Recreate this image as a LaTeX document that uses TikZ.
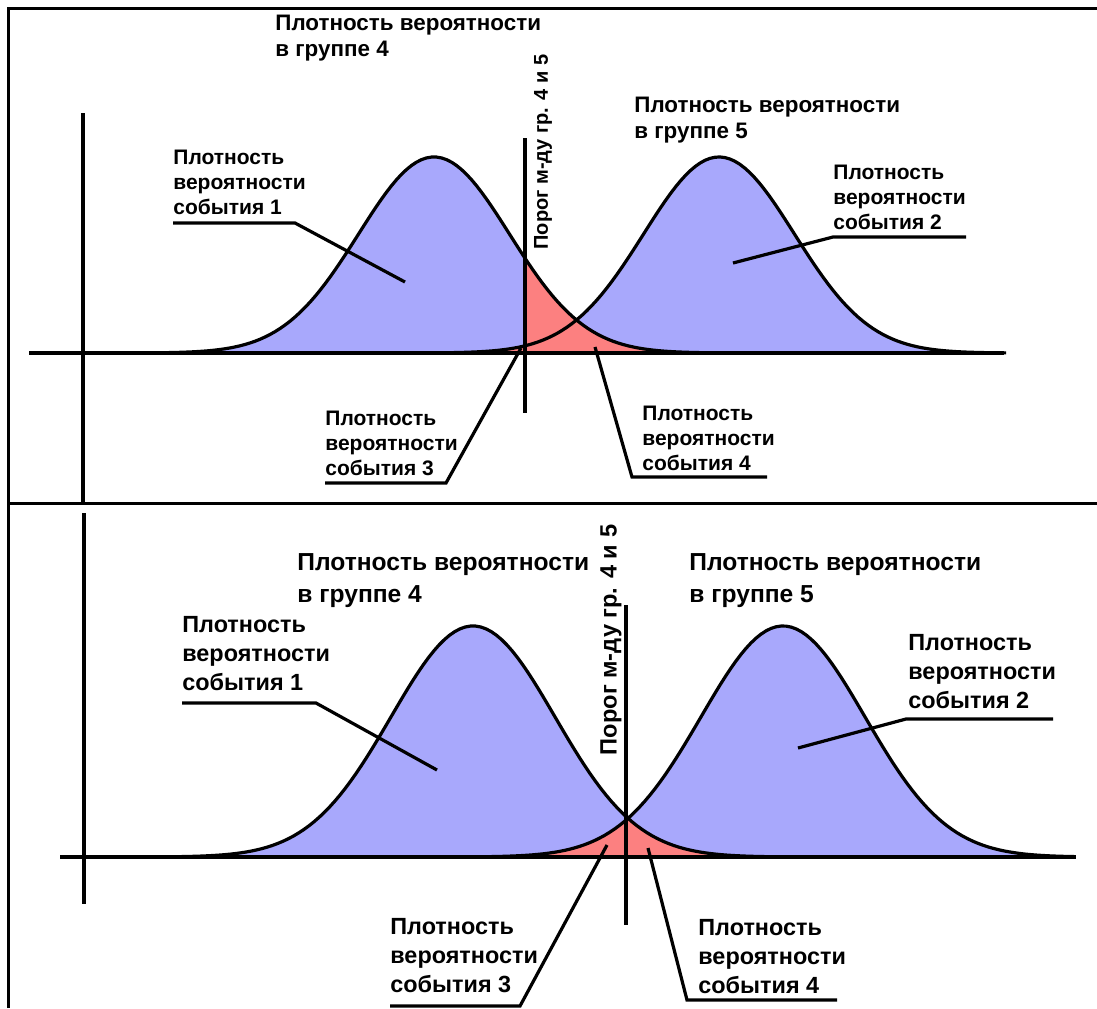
\documentclass[tikz,border=0pt]{standalone}
\usepackage{fontspec}
\setmainfont{Liberation Sans}
\definecolor{bluefill}{RGB}{168,168,252}
\definecolor{redfill}{RGB}{252,128,128}
\begin{document}
\begin{tikzpicture}[x=0.5pt,y=-0.5pt,
  ax/.style={line width=2pt},
  thl/.style={line width=2.2pt},
  cv/.style={line width=1.6pt},
  ld/.style={line width=1.6pt},
  fr/.style={line width=1.5pt},
  lbl/.style={anchor=west,inner sep=0pt,align=left},
  ttlA/.style={lbl,font=\bfseries\fontsize{11.2pt}{13.25pt}\selectfont},
  evA/.style={lbl,font=\bfseries\fontsize{10.5pt}{12.5pt}\selectfont},
  ttlB/.style={lbl,font=\bfseries\fontsize{12.3pt}{16pt}\selectfont},
  evB/.style={lbl,font=\bfseries\fontsize{11.7pt}{14.5pt}\selectfont},
  thrA/.style={inner sep=0pt,rotate=90,font=\bfseries\fontsize{10pt}{12pt}\selectfont},
  thrB/.style={inner sep=0pt,rotate=90,font=\bfseries\fontsize{11.8pt}{14pt}\selectfont}]
\useasboundingbox (0,0) rectangle (1097,1008);
% frame
\draw[fr] (8,1008) -- (8,8) -- (1097,8);
\draw[fr] (8,503) -- (1097,503);

% ================= TOP PANEL =================
\fill[bluefill] plot[domain=134:734,samples=120] (\x,{353-196*exp(-0.5*((\x-434)/75.5)^2)}) -- cycle;
\fill[bluefill] plot[domain=419:1006,samples=120] (\x,{353-196*exp(-0.5*((\x-719)/75.5)^2)}) -- cycle;
\fill[redfill] (525,353) -- plot[domain=525:734,samples=60] (\x,{353-196*exp(-0.5*((\x-434)/75.5)^2)}) -- cycle;
\fill[redfill] plot[domain=419:525,samples=40] (\x,{353-196*exp(-0.5*((\x-719)/75.5)^2)}) -- (525,353) -- cycle;
\draw[cv] plot[domain=134:734,samples=120] (\x,{353-196*exp(-0.5*((\x-434)/75.5)^2)});
\draw[cv] plot[domain=419:1006,samples=120] (\x,{353-196*exp(-0.5*((\x-719)/75.5)^2)});
% axes
\coordinate (a1t) at (83,113); \coordinate (a1b) at (83,503);
\coordinate (h1l) at (29,353); \coordinate (h1r) at (1004,353);
\coordinate (th1t) at (525,138); \coordinate (th1b) at (525,413);
\draw[ax] (a1t) -- (a1b);
\draw[ax] (h1l) -- (h1r);
\draw[thl] (th1t) -- (th1b);
% texts
\node[ttlA] (t4a) at (275,38) {Плотность вероятности\\в группе 4};
\node[ttlA] (t5a) at (634,120) {Плотность вероятности\\в группе 5};
\node[evA] (e1a) at (173,182) {Плотность\\вероятности\\события 1};
\node[evA] (e2a) at (833,197) {Плотность\\вероятности\\события 2};
\node[evA] (e3a) at (325,443) {Плотность\\вероятности\\события 3};
\node[evA] (e4a) at (642,438) {Плотность\\вероятности\\события 4};
\node[thrA] (thra) at (543,152) {Порог м-ду гр. 4 и 5};
% leaders
\coordinate (u1a) at (173,223); \coordinate (v1a) at (295,223); \coordinate (p1a) at (405,282);
\coordinate (u2a) at (966,237); \coordinate (v2a) at (833,237); \coordinate (p2a) at (733,263);
\coordinate (u3a) at (325,483); \coordinate (v3a) at (446,483); \coordinate (p3a) at (521,348);
\coordinate (u4a) at (767,477); \coordinate (v4a) at (632,477); \coordinate (p4a) at (595,347);
\draw[ld] (u1a) -- (v1a) -- (p1a);
\draw[ld] (u2a) -- (v2a) -- (p2a);
\draw[ld] (u3a) -- (v3a) -- (p3a);
\draw[ld] (u4a) -- (v4a) -- (p4a);

% ================= BOTTOM PANEL =================
\fill[bluefill] plot[domain=163:783,samples=120] (\x,{857-231*exp(-0.5*((\x-473)/82)^2)}) -- cycle;
\fill[bluefill] plot[domain=473:1074,samples=120] (\x,{857-231*exp(-0.5*((\x-783)/82)^2)}) -- cycle;
\fill[redfill] (626,857) -- plot[domain=626:783,samples=60] (\x,{857-231*exp(-0.5*((\x-473)/82)^2)}) -- cycle;
\fill[redfill] plot[domain=473:626,samples=60] (\x,{857-231*exp(-0.5*((\x-783)/82)^2)}) -- (626,857) -- cycle;
\draw[cv] plot[domain=163:783,samples=120] (\x,{857-231*exp(-0.5*((\x-473)/82)^2)});
\draw[cv] plot[domain=473:1074,samples=120] (\x,{857-231*exp(-0.5*((\x-783)/82)^2)});
\coordinate (a2t) at (84,513); \coordinate (a2b) at (84,904);
\coordinate (h2l) at (60,857); \coordinate (h2r) at (1076,857);
\coordinate (th2t) at (626,605); \coordinate (th2b) at (626,925);
\draw[ax] (a2t) -- (a2b);
\draw[ax] (h2l) -- (h2r);
\draw[thl] (th2t) -- (th2b);
\node[ttlB] (t4b) at (297,581) {Плотность вероятности\\в группе 4};
\node[ttlB] (t5b) at (689,581) {Плотность вероятности\\в группе 5};
\node[evB] (e1b) at (182,654) {Плотность\\вероятности\\события 1};
\node[evB] (e2b) at (908,672) {Плотность\\вероятности\\события 2};
\node[evB] (e3b) at (390,956) {Плотность\\вероятности\\события 3};
\node[evB] (e4b) at (698,957) {Плотность\\вероятности\\события 4};
\node[thrB] (thrb) at (611,640) {Порог м-ду гр. 4 и 5};
\coordinate (u1b) at (182,703); \coordinate (v1b) at (316,703); \coordinate (p1b) at (437,770);
\coordinate (u2b) at (1053,719); \coordinate (v2b) at (906,719); \coordinate (p2b) at (798,748);
\coordinate (u3b) at (390,1006); \coordinate (v3b) at (520,1006); \coordinate (p3b) at (607,845);
\coordinate (u4b) at (837,1000); \coordinate (v4b) at (687,1000); \coordinate (p4b) at (648,848);
\draw[ld] (u1b) -- (v1b) -- (p1b);
\draw[ld] (u2b) -- (v2b) -- (p2b);
\draw[ld] (u3b) -- (v3b) -- (p3b);
\draw[ld] (u4b) -- (v4b) -- (p4b);
\end{tikzpicture}
\end{document}
